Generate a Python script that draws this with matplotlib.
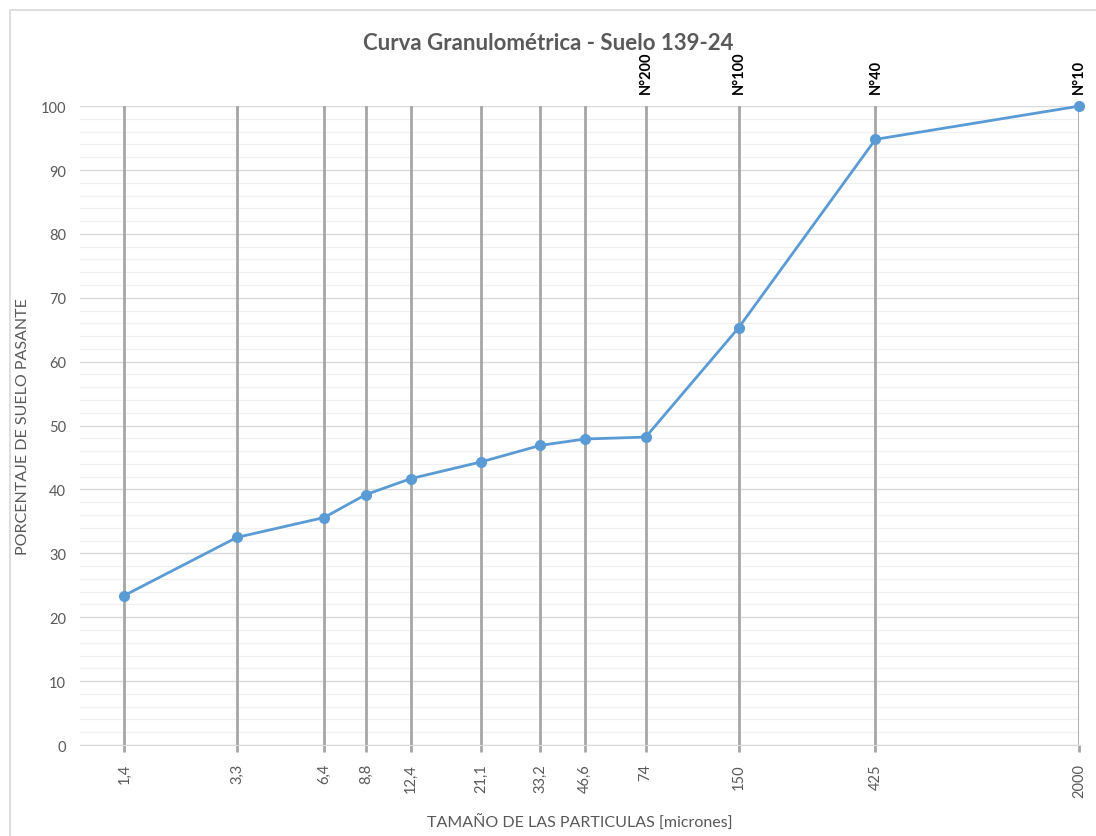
import matplotlib.pyplot as plt
from matplotlib.patches import Rectangle
from matplotlib.ticker import FixedLocator, MultipleLocator

plt.rcParams['font.family'] = ['Lato', 'DejaVu Sans']

# Datos de la curva granulométrica
tamanos = [1.4, 3.3, 6.4, 8.8, 12.4, 21.1, 33.2, 46.6, 74, 150, 425, 2000]
etiquetas = ['1,4', '3,3', '6,4', '8,8', '12,4', '21,1', '33,2', '46,6', '74', '150', '425', '2000']
pasante = [23.4, 32.5, 35.6, 39.2, 41.7, 44.3, 46.9, 47.9, 48.2, 65.3, 94.8, 100.0]

# Tamices (arriba del gráfico)
tamices_x = [74, 150, 425, 2000]
tamices = ['N°200', 'N°100', 'N°40', 'N°10']

gris_txt = '#595959'

fig = plt.figure(figsize=(10.96, 8.37), dpi=100)
ax = fig.add_axes([0.073, 0.1087, 0.9115, 0.7633])

# marco del gráfico
fig.patches.append(Rectangle((10 / 1096, -0.01), 1.02, 1 - 11 / 837 + 0.01,
                             transform=fig.transFigure, fill=False,
                             edgecolor='#D9D9D9', linewidth=1.2))

ax.set_xscale('log')
ax.set_xlim(1.0, 2000)
ax.set_ylim(0, 100)

# rejilla horizontal
ax.yaxis.set_major_locator(MultipleLocator(10))
ax.yaxis.set_minor_locator(MultipleLocator(2))
ax.grid(which='major', axis='y', color='#D9D9D9', linewidth=1.0)
ax.grid(which='minor', axis='y', color='#F0F0F0', linewidth=0.9)
ax.set_axisbelow(True)

# líneas verticales en cada tamaño
for x in tamanos:
    ax.axvline(x, color='#A6A6A6', linewidth=2.0, zorder=1)

ax.plot(tamanos, pasante, color='#5B9BD5', linewidth=2.0, marker='o',
        markersize=7, zorder=3, clip_on=False)

ax.xaxis.set_major_locator(FixedLocator(tamanos))
ax.xaxis.set_minor_locator(FixedLocator([]))
ax.set_xticklabels(etiquetas, rotation=90, color=gris_txt, fontsize=10.5)
ax.tick_params(axis='x', which='major', length=5, color='#A6A6A6', width=2, pad=8)
ax.tick_params(axis='y', which='both', length=0, labelcolor=gris_txt, labelsize=10.5, pad=10)

for s in ['top', 'right', 'left']:
    ax.spines[s].set_visible(False)
ax.spines['bottom'].set_color('#D9D9D9')

# etiquetas de tamices arriba
for x, t in zip(tamices_x, tamices):
    ax.text(x, 102.0, t, rotation=90, ha='center', va='bottom', fontsize=10.5,
            fontweight='bold', color='black')

ax.set_xlabel('TAMAÑO DE LAS PARTICULAS [micrones]', color=gris_txt, fontsize=11.5, labelpad=12)
ax.set_ylabel('PORCENTAJE DE SUELO PASANTE', color=gris_txt, fontsize=11.5, labelpad=8)
fig.text(0.5, 0.948, 'Curva Granulométrica - Suelo 139-24', ha='center', va='center',
         fontsize=16, fontweight='bold', color=gris_txt)

fig.savefig('out.png', dpi=100)
